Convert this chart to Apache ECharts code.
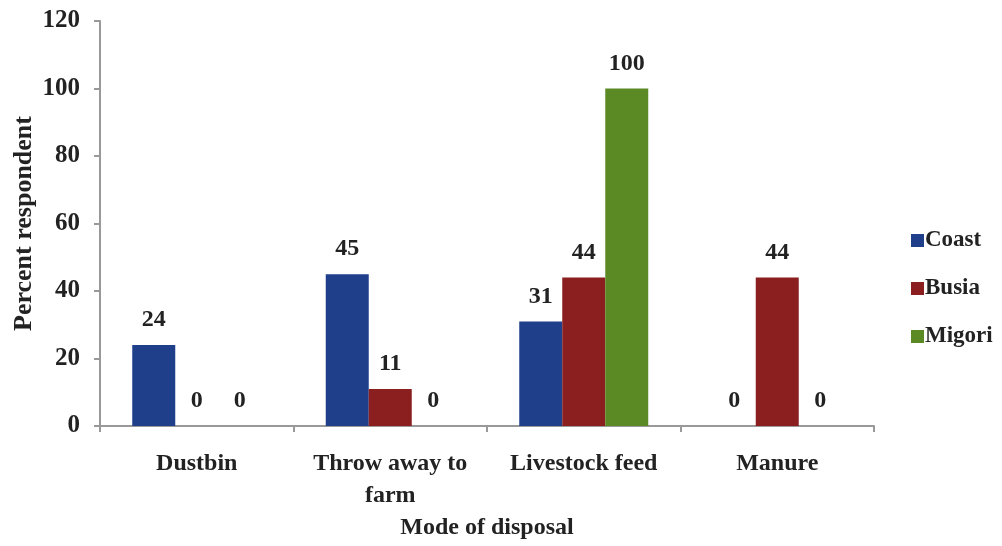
<!DOCTYPE html>
<html>
<head>
<meta charset="utf-8">
<script src="https://cdn.jsdelivr.net/npm/echarts@6/dist/echarts.min.js"></script>
<style>html,body{margin:0;padding:0;background:#fff}#c{width:1002px;height:546px}</style>
</head>
<body>
<div id="c"></div>
<script>
const categories = ['Dustbin', 'Throw away to\nfarm', 'Livestock feed', 'Manure'];
const seriesNames = ['Coast', 'Busia', 'Migori'];
const coast = [24, 45, 31, 0];
const busia = [0, 11, 44, 44];
const migori = [0, 0, 100, 0];
const yTicks = [0, 20, 40, 60, 80, 100, 120];

const FONT = '"Liberation Serif", "Times New Roman", serif';
const colors = ['#1f3f8b', '#8b1f1f', '#5b8a24'];
const chart = echarts.init(document.getElementById('c'));
const lbl = {show: true, position: 'top', distance: 13, fontFamily: FONT, fontWeight: 'bold', fontSize: 24, color: '#222'};
const values = [coast, busia, migori];
chart.setOption({
  animation: false,
  color: colors,
  grid: {left: 100, right: 128, top: 21, bottom: 120, containLabel: false, outerBoundsMode: 'none'},
  legend: {
    orient: 'vertical', left: 906, top: 224, itemWidth: 13, itemHeight: 13, itemGap: 25,
    icon: 'rect',
    textStyle: {fontFamily: FONT, fontWeight: 'bold', fontSize: 23, color: '#222', padding: [0,0,0,-4]},
    data: seriesNames
  },
  xAxis: {
    type: 'category', data: categories,
    name: 'Mode of disposal', nameLocation: 'middle', nameGap: 90, nameMoveOverlap: false,
    nameTextStyle: {fontFamily: FONT, fontWeight: 'bold', fontSize: 24, color: '#222'},
    axisLine: {lineStyle: {color: '#999', width: 2}},
    axisTick: {show: true, alignWithLabel: false, length: 6, lineStyle: {color: '#999', width: 2}},
    axisLabel: {fontFamily: FONT, fontWeight: 'bold', fontSize: 24, color: '#222', margin: 22, lineHeight: 32, interval: 0}
  },
  yAxis: {
    type: 'value', min: yTicks[0], max: yTicks[yTicks.length-1], interval: 20,
    name: 'Percent respondent', nameLocation: 'middle', nameGap: 63, nameMoveOverlap: false,
    nameTextStyle: {fontFamily: FONT, fontWeight: 'bold', fontSize: 26, color: '#222'},
    axisLine: {show: true, lineStyle: {color: '#999', width: 2}},
    axisTick: {show: true, length: 6, lineStyle: {color: '#999', width: 2}},
    splitLine: {show: false},
    axisLabel: {fontFamily: FONT, fontWeight: 'bold', fontSize: 25, color: '#222', margin: 20}
  },
  series: seriesNames.map((n, i) => ({
    name: n, type: 'bar', data: values[i], barWidth: 43, barGap: '0%',
    label: lbl
  }))
});
</script>
</body>
</html>
